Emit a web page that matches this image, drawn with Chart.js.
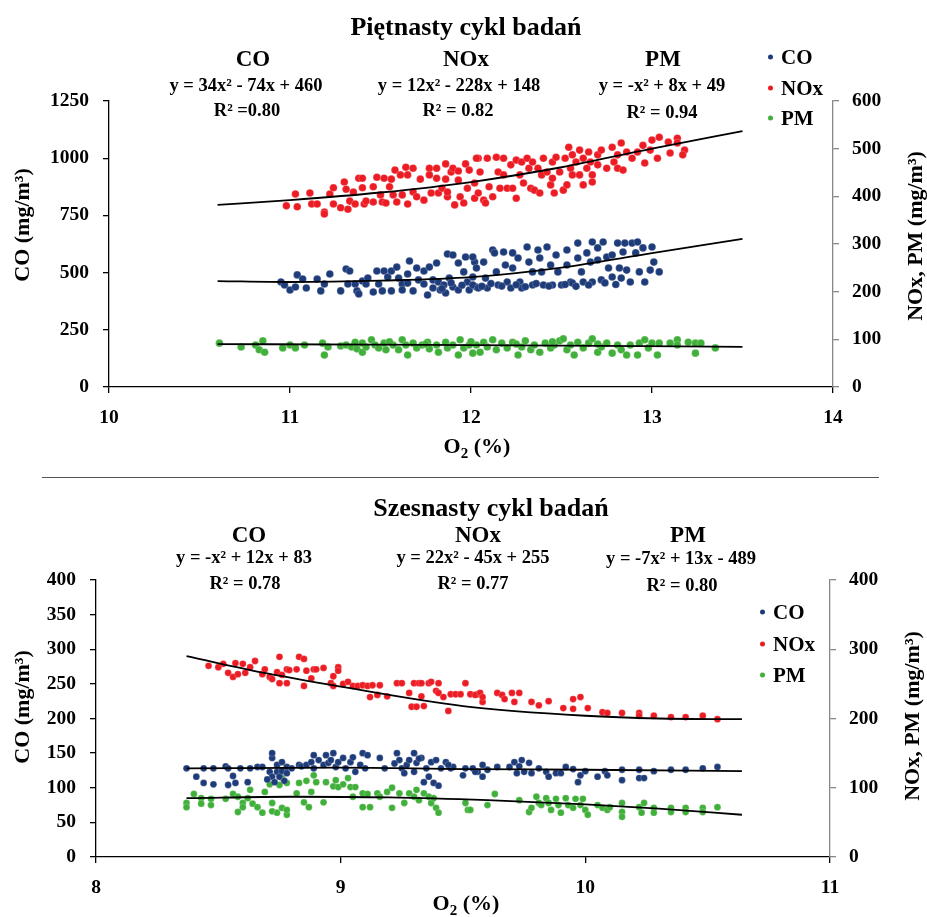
<!DOCTYPE html>
<html lang="pl">
<head>
<meta charset="UTF-8">
<title>Piętnasty i szesnasty cykl badań</title>
<script src="https://cdn.jsdelivr.net/npm/chart.js"></script>
<style>
  body { margin: 0; background: #fff; }
  #wrap { position: relative; width: 927px; height: 917px; font-family: 'Liberation Serif', serif; font-weight: bold; color: #000; }
  canvas { position: absolute; left: 0; }
  .lbl { position: absolute; transform: translate(-50%, -50%); white-space: nowrap; line-height: 1; }
  .rot { position: absolute; transform: translate(-50%, -50%) rotate(-90deg); white-space: nowrap; line-height: 1; font-size: 22px; }
  .leg { position: absolute; white-space: nowrap; line-height: 1; font-size: 21px; transform: translateY(-50%); }
  .leg i { display: inline-block; width: 5px; height: 5px; border-radius: 50%; margin-right: 8px; vertical-align: middle; position: relative; top: -2px; }
  .t { font-size: 26px; }
  .h { font-size: 23px; }
  .e { font-size: 18.5px; }
  .sep { position: absolute; left: 42px; width: 837px; top: 477px; border-top: 1.5px solid #555; }
</style>
</head>
<body>
<div id="wrap">
  <canvas id="c15" width="927" height="470" style="top:0"></canvas>
  <canvas id="c16" width="927" height="447" style="top:470px"></canvas>

  <!-- cykl 15 -->
  <div class="lbl t" style="left:466px;top:27px">Piętnasty cykl badań</div>
  <div class="lbl h" style="left:253px;top:58px">CO</div>
  <div class="lbl e" style="left:246px;top:85px">y = 34x² - 74x + 460</div>
  <div class="lbl e" style="left:247px;top:110px">R² =0.80</div>
  <div class="lbl h" style="left:466px;top:58px">NOx</div>
  <div class="lbl e" style="left:459px;top:85px">y = 12x² - 228x + 148</div>
  <div class="lbl e" style="left:458px;top:110px">R² = 0.82</div>
  <div class="lbl h" style="left:663px;top:58px">PM</div>
  <div class="lbl e" style="left:662px;top:85px">y = -x² + 8x + 49</div>
  <div class="lbl e" style="left:662px;top:112px">R² = 0.94</div>
  <div class="leg" style="left:768px;top:57px"><i style="background:#1f3c7a"></i>CO</div>
  <div class="leg" style="left:768px;top:88px"><i style="background:#ec1c24"></i>NOx</div>
  <div class="leg" style="left:768px;top:118px"><i style="background:#41b03a"></i>PM</div>
  <div class="lbl" style="left:477px;top:448px;font-size:22px">O<sub style="font-size:15px">2</sub> (%)</div>
  <div class="rot" style="left:22px;top:225px">CO (mg/m³)</div>
  <div class="rot" style="left:915px;top:236px">NOx, PM (mg/m³)</div>

  <div class="sep"></div>

  <!-- cykl 16 -->
  <div class="lbl t" style="left:491px;top:508px">Szesnasty cykl badań</div>
  <div class="lbl h" style="left:249px;top:534px">CO</div>
  <div class="lbl e" style="left:244px;top:557px">y = -x² + 12x + 83</div>
  <div class="lbl e" style="left:245px;top:583px">R² = 0.78</div>
  <div class="lbl h" style="left:478px;top:534px">NOx</div>
  <div class="lbl e" style="left:473px;top:557px">y = 22x² - 45x + 255</div>
  <div class="lbl e" style="left:473px;top:583px">R² = 0.77</div>
  <div class="lbl h" style="left:688px;top:534px">PM</div>
  <div class="lbl e" style="left:681px;top:558px">y = -7x² + 13x - 489</div>
  <div class="lbl e" style="left:682px;top:585px">R² = 0.80</div>
  <div class="leg" style="left:760px;top:612px"><i style="background:#1f3c7a"></i>CO</div>
  <div class="leg" style="left:760px;top:644px"><i style="background:#ec1c24"></i>NOx</div>
  <div class="leg" style="left:760px;top:675px"><i style="background:#41b03a"></i>PM</div>
  <div class="lbl" style="left:466px;top:905px;font-size:22px">O<sub style="font-size:15px">2</sub> (%)</div>
  <div class="rot" style="left:22px;top:707px">CO (mg/m³)</div>
  <div class="rot" style="left:912px;top:716px">NOx, PM (mg/m³)</div>
</div>

<script>
// ---- dane: piętnasty cykl (O2 %, wartość) ----
const co15 = [[10.95,459],[10.97,446],[11.0,424],[11.03,437],[11.04,490],[11.07,472],[11.09,433],[11.15,472],[11.17,420],[11.19,450],
  [11.22,494],[11.28,420],[11.31,516],[11.32,450],[11.33,507],[11.36,450],[11.37,420],[11.38,407],[11.40,463],[11.42,450],
  [11.43,476],[11.46,415],[11.48,507],[11.49,450],[11.51,420],[11.52,507],[11.54,481],[11.56,507],[11.56,420],[11.59,524],
  [11.60,476],[11.62,450],[11.62,424],[11.66,551],[11.65,494],[11.65,454],[11.68,420],[11.70,520],[11.71,468],[11.74,507],
  [11.74,450],[11.77,524],[11.76,402],[11.79,468],[11.79,433],[11.81,542],[11.82,459],[11.83,424],[11.85,446],[11.86,411],
  [11.87,581],[11.90,577],[11.88,476],[11.90,437],[11.93,542],[11.93,424],[11.96,503],[11.97,568],[11.98,459],[11.99,424],
  [12.01,481],[12.02,546],[12.03,437],[12.01,568],[12.03,520],[12.01,446],[12.04,433],[12.07,546],[12.08,476],[12.09,433],
  [12.12,599],[12.13,586],[12.14,503],[12.15,446],[12.18,590],[12.19,533],[12.20,459],[12.22,433],[12.23,586],[12.23,520],
  [12.26,564],[12.27,459],[12.28,433],[12.31,612],[12.32,546],[12.34,503],[12.34,446],[12.37,599],[12.38,564],[12.39,503],
  [12.40,446],[12.42,612],[12.44,533],[12.45,446],[12.47,577],[12.48,503],[12.50,446],[12.53,599],[12.53,533],[12.55,459],
  [12.56,454],[12.59,629],[12.59,564],[12.61,503],[12.62,459],[12.64,586],[12.66,546],[12.67,459],[12.67,634],[12.70,608],
  [12.70,555],[12.72,468],[12.73,634],[12.75,568],[12.76,520],[12.78,481],[12.78,577],[12.81,629],[12.82,520],[12.83,476],
  [12.84,590],[12.85,629],[12.86,511],[12.88,459],[12.89,629],[12.91,586],[12.92,634],[12.93,503],[12.95,608],[12.96,459],
  [13.00,612],[13.01,546],[12.99,511],[13.04,503],[12.06,440],[12.11,452],[12.17,441],[12.25,447],[12.30,438],[12.36,452],
  [12.43,441],[12.52,448],[12.58,440],[12.65,446],[12.74,455],[12.80,448],[11.95,445],[11.89,455],[11.84,430]];

const nox15 = [[10.98,380],[11.03,405],[11.04,378],[11.11,407],[11.12,384],[11.15,384],[11.19,367],[11.19,363],[11.22,405],[11.24,418],
  [11.24,384],[11.28,376],[11.30,430],[11.31,415],[11.32,373],[11.33,390],[11.35,409],[11.36,384],[11.38,438],[11.40,438],
  [11.40,418],[11.41,384],[11.42,390],[11.46,420],[11.46,388],[11.48,440],[11.50,403],[11.51,388],[11.52,438],[11.53,386],
  [11.55,420],[11.56,436],[11.57,403],[11.58,455],[11.59,388],[11.61,445],[11.62,403],[11.64,461],[11.65,384],[11.65,445],
  [11.68,459],[11.68,409],[11.70,399],[11.72,436],[11.74,392],[11.77,459],[11.77,445],[11.78,407],[11.81,459],[11.81,438],
  [11.82,407],[11.84,417],[11.86,468],[11.86,436],[11.87,399],[11.87,409],[11.89,451],[11.90,459],[11.91,382],[11.93,434],
  [11.93,453],[11.94,399],[11.96,386],[11.97,468],[11.98,417],[11.99,455],[12.02,396],[12.04,480],[12.03,480],[12.05,451],
  [12.02,428],[12.04,407],[12.07,392],[12.08,386],[12.09,480],[12.10,420],[12.12,399],[12.14,482],[12.15,451],[12.16,417],
  [12.18,480],[12.18,445],[12.20,417],[12.22,466],[12.23,417],[12.25,476],[12.25,396],[12.27,445],[12.28,472],[12.29,428],
  [12.31,480],[12.32,459],[12.33,417],[12.34,472],[12.35,413],[12.37,459],[12.38,407],[12.39,445],[12.40,480],[12.42,451],
  [12.44,424],[12.45,472],[12.45,438],[12.46,407],[12.47,482],[12.49,451],[12.51,413],[12.52,480],[12.53,424],[12.54,503],
  [12.55,459],[12.56,487],[12.56,445],[12.58,472],[12.60,497],[12.60,445],[12.62,480],[12.62,424],[12.64,459],[12.65,493],
  [12.66,472],[12.67,430],[12.67,445],[12.70,487],[12.70,466],[12.72,497],[12.75,459],[12.78,503],[12.79,472],[12.81,487],
  [12.81,459],[12.83,512],[12.84,455],[12.86,493],[12.89,480],[12.92,493],[12.95,507],[12.96,470],[12.99,497],[13.00,518],
  [13.03,480],[13.04,524],[13.09,514],[13.10,491],[13.14,522],[13.14,512],[13.18,497],[13.17,487]];

const pm15 = [[10.61,92],[10.73,84],[10.81,88],[10.83,78],[10.85,97],[10.86,73],[10.96,82],[11.00,88],[11.03,82],[11.08,88],
  [11.18,92],[11.19,67],[11.21,84],[11.28,86],[11.31,88],[11.34,84],[11.36,94],[11.37,80],[11.40,92],[11.40,73],
  [11.42,84],[11.45,99],[11.47,88],[11.49,82],[11.52,92],[11.53,78],[11.57,88],[11.60,78],[11.62,99],[11.64,88],
  [11.65,67],[11.68,92],[11.70,82],[11.73,88],[11.76,94],[11.77,80],[11.81,88],[11.82,73],[11.86,94],[11.87,82],
  [11.90,88],[11.93,67],[11.94,99],[11.96,82],[11.99,88],[12.01,71],[12.03,88],[12.05,73],[12.07,94],[12.09,84],
  [12.12,99],[12.14,78],[12.17,92],[12.20,82],[12.23,94],[12.26,67],[12.28,84],[12.30,97],[12.33,78],[12.35,88],
  [12.38,73],[12.41,92],[12.44,82],[12.46,88],[12.49,97],[12.51,101],[12.53,78],[12.55,88],[12.57,67],[12.59,94],
  [12.62,82],[12.65,92],[12.67,101],[12.70,73],[12.72,84],[12.75,92],[12.78,71],[12.81,88],[12.83,78],[12.86,67],
  [12.88,88],[12.92,67],[12.93,92],[12.96,99],[12.98,82],[13.00,92],[13.03,67],[13.04,92],[13.10,92],[13.14,99],
  [13.14,88],[13.20,94],[13.24,92],[13.24,71],[13.27,92],[13.35,82],[11.55,95],[11.75,90],[12.0,95],[12.25,90],[12.45,95],[12.7,90]];

const trendCo15 = [[10.6,463],[11,459],[11.5,465],[12,480],[12.5,522],[13,585],[13.5,647]];
const trendNox15 = [[10.6,382],[11,392],[11.5,408],[12,430],[12.5,461],[13,500],[13.5,537]];
const trendPm15 = [[10.6,90],[11.5,89],[12.5,87],[13.5,84]];

// ---- dane: szesnasty cykl ----
const co16 = [[8.37,128],[8.41,116],[8.44,107],[8.44,128],[8.48,128],[8.48,105],[8.53,131],[8.54,128],[8.54,104],[8.56,117],
  [8.57,107],[8.59,128],[8.62,108],[8.63,128],[8.66,130],[8.68,130],[8.71,123],[8.72,143],[8.72,150],[8.72,116],
  [8.73,108],[8.74,133],[8.74,123],[8.75,116],[8.76,137],[8.76,124],[8.78,130],[8.78,121],[8.80,128],[8.83,133],
  [8.84,131],[8.86,133],[8.88,137],[8.89,147],[8.89,128],[8.91,140],[8.93,133],[8.94,147],[8.95,136],[8.96,140],
  [8.97,150],[8.98,130],[8.99,137],[9.01,143],[9.02,128],[9.04,137],[9.05,144],[9.06,123],[9.08,133],[9.09,150],
  [9.10,128],[9.11,147],[9.16,143],[9.18,128],[9.23,150],[9.24,140],[9.25,128],[9.26,121],[9.27,133],[9.28,140],
  [9.30,123],[9.30,150],[9.31,136],[9.33,143],[9.34,108],[9.35,128],[9.36,116],[9.37,137],[9.38,107],[9.39,140],
  [9.40,103],[9.41,128],[9.43,137],[9.45,128],[9.46,130],[9.50,118],[9.51,128],[9.56,123],[9.54,128],[9.55,123],
  [9.58,133],[9.58,116],[9.60,126],[9.64,130],[9.69,130],[9.71,137],[9.72,121],[9.73,131],[9.74,140],[9.75,123],
  [9.77,136],[9.78,121],[9.81,128],[9.84,123],[9.85,116],[9.88,121],[9.90,121],[9.92,130],[9.95,127],[9.97,108],
  [9.98,118],[10.00,124],[10.05,116],[10.08,124],[10.09,118],[10.15,126],[10.15,111],[10.22,126],[10.22,114],[10.24,114],
  [10.28,124],[10.35,126],[10.41,126],[10.48,128],[10.54,130],[8.70,112],[8.77,110],[9.32,142],[9.22,135],[9.44,133]];

const nox16 = [[8.46,276],[8.50,274],[8.52,279],[8.54,266],[8.56,260],[8.57,280],[8.58,264],[8.60,279],[8.61,266],[8.63,274],
  [8.65,283],[8.68,264],[8.69,271],[8.71,260],[8.72,257],[8.74,267],[8.75,251],[8.75,289],[8.76,263],[8.78,271],
  [8.78,251],[8.79,270],[8.82,271],[8.83,289],[8.85,286],[8.85,247],[8.86,269],[8.88,258],[8.89,271],[8.90,271],
  [8.93,273],[8.96,251],[8.97,261],[8.97,247],[8.99,274],[8.99,269],[9.01,250],[9.03,253],[9.05,247],[9.07,247],
  [9.09,248],[9.11,247],[9.12,231],[9.13,248],[9.15,234],[9.16,248],[9.19,232],[9.23,251],[9.25,251],[9.28,237],
  [9.29,217],[9.30,251],[9.31,217],[9.32,251],[9.33,232],[9.33,251],[9.34,218],[9.36,251],[9.37,253],[9.39,240],
  [9.40,251],[9.40,237],[9.42,231],[9.44,211],[9.45,235],[9.47,235],[9.49,235],[9.51,251],[9.53,235],[9.56,235],
  [9.55,234],[9.57,237],[9.58,224],[9.58,231],[9.64,237],[9.66,234],[9.67,228],[9.70,237],[9.71,224],[9.73,237],
  [9.78,224],[9.81,219],[9.85,225],[9.91,215],[9.95,228],[9.95,214],[9.98,231],[10.01,215],[10.07,209],[10.09,208],
  [10.15,208],[10.22,208],[10.22,204],[10.28,204],[10.35,202],[10.41,202],[10.48,204],[10.54,199]];

const pm16 = [[8.37,78],[8.37,72],[8.40,91],[8.43,85],[8.43,77],[8.47,84],[8.47,75],[8.53,84],[8.56,91],[8.58,87],
  [8.58,65],[8.60,78],[8.60,72],[8.62,85],[8.64,77],[8.63,97],[8.66,72],[8.68,64],[8.69,94],[8.71,105],
  [8.72,78],[8.72,66],[8.74,64],[8.75,104],[8.76,114],[8.76,71],[8.78,61],[8.78,107],[8.78,68],[8.82,92],
  [8.83,107],[8.85,79],[8.86,110],[8.87,72],[8.88,94],[8.89,118],[8.90,108],[8.93,79],[8.94,108],[8.97,102],
  [8.98,111],[8.99,101],[9.01,105],[9.03,114],[9.04,101],[9.05,87],[9.06,101],[9.09,92],[9.09,72],[9.11,91],
  [9.12,72],[9.15,92],[9.16,87],[9.19,94],[9.21,71],[9.21,100],[9.24,92],[9.26,78],[9.28,92],[9.30,87],
  [9.31,97],[9.32,82],[9.34,92],[9.36,87],[9.37,78],[9.38,85],[9.39,71],[9.40,64],[9.51,78],[9.52,68],
  [9.53,68],[9.60,75],[9.63,91],[9.73,82],[9.77,65],[9.78,71],[9.80,87],[9.81,78],[9.82,75],[9.84,85],
  [9.85,78],[9.86,68],[9.88,84],[9.89,75],[9.90,64],[9.92,85],[9.93,75],[9.95,71],[9.96,84],[9.98,75],
  [9.99,84],[10.00,68],[10.01,61],[10.05,75],[10.07,71],[10.09,68],[10.10,72],[10.15,78],[10.15,65],[10.15,58],
  [10.22,72],[10.23,64],[10.24,78],[10.28,71],[10.28,64],[10.35,71],[10.35,65],[10.41,71],[10.41,65],[10.48,71],
  [10.48,65],[10.54,72]];

const trendNox16 = [[8.37,290],[8.7,265],[9,246],[9.5,218],[10,204],[10.3,200],[10.64,199]];
const trendCo16 = [[8.37,128],[9,129],[9.5,127],[10,126],[10.64,124]];
const trendPm16 = [[8.37,85],[8.8,87],[9.2,86],[9.6,82],[10,76],[10.3,70],[10.64,61]];

const BLUE = '#1f3c7a', RED = '#ec1c24', GREEN = '#41b03a';
const FONT = { family: "'Liberation Serif', serif", weight: 'bold', size: 19.5 };

function pts(arr) { return arr.map(p => ({ x: p[0], y: p[1] })); }

function scatter(data, color, axis, r) {
  return { type: 'scatter', data: pts(data), yAxisID: axis, backgroundColor: color, borderColor: 'rgba(255,255,255,0.35)',
    borderWidth: 0.6, pointRadius: r, pointHoverRadius: r, order: 2 };
}
function trend(data, axis) {
  return { type: 'line', data: pts(data), yAxisID: axis, borderColor: '#000', borderWidth: 1.8, pointRadius: 0,
    tension: 0.4, cubicInterpolationMode: 'monotone', fill: false, order: 1 };
}

// etykiety osi bez separatora tysięcy
const plain = v => String(v);

function makeChart(id, cfg) {
  const axisGrid = (c) => ({ drawOnChartArea: false, drawTicks: true, tickLength: 6, color: c, lineWidth: 1.3 });
  return new Chart(document.getElementById(id), {
    type: 'scatter',
    data: { datasets: cfg.datasets },
    options: {
      responsive: false,
      animation: false,
      layout: { padding: { top: cfg.top, left: 0, right: 0, bottom: 0 } },
      plugins: { legend: { display: false }, tooltip: { enabled: false } },
      scales: {
        x: {
          type: 'linear', min: cfg.xMin, max: cfg.xMax,
          ticks: { stepSize: 1, font: FONT, color: '#000', padding: 13, callback: plain },
          grid: axisGrid('#000'), border: { color: '#000', width: 1.3 },
          afterFit: s => { s.height = cfg.xH; }
        },
        y: {
          position: 'left', min: 0, max: cfg.yMax,
          ticks: { stepSize: cfg.yStep, font: FONT, color: '#000', padding: 14, callback: plain },
          grid: axisGrid('#000'), border: { color: '#000', width: 1.3 },
          afterFit: s => { s.width = cfg.leftW; }
        },
        y1: {
          position: 'right', min: 0, max: cfg.y1Max,
          ticks: { stepSize: cfg.y1Step, font: FONT, color: '#000', padding: 13, callback: plain },
          grid: axisGrid('#888'), border: { color: '#888', width: 1.3 },
          afterFit: s => { s.width = cfg.rightW; }
        }
      }
    }
  });
}

makeChart('c15', {
  top: 101, xH: 83, leftW: 109, rightW: 94, xMin: 10, xMax: 14,
  yMax: 1250, yStep: 250, y1Max: 600, y1Step: 100,
  datasets: [
    trend(trendCo15, 'y'), trend(trendNox15, 'y1'), trend(trendPm15, 'y1'),
    scatter(co15, BLUE, 'y', 3.8), scatter(nox15, RED, 'y1', 3.8), scatter(pm15, GREEN, 'y1', 3.8)
  ]
});

makeChart('c16', {
  top: 110, xH: 60, leftW: 96, rightW: 97, xMin: 8, xMax: 11,
  yMax: 400, yStep: 50, y1Max: 400, y1Step: 100,
  datasets: [
    trend(trendCo16, 'y'), trend(trendNox16, 'y1'), trend(trendPm16, 'y1'),
    scatter(co16, BLUE, 'y', 3.4), scatter(nox16, RED, 'y1', 3.4), scatter(pm16, GREEN, 'y1', 3.4)
  ]
});
</script>
</body>
</html>
